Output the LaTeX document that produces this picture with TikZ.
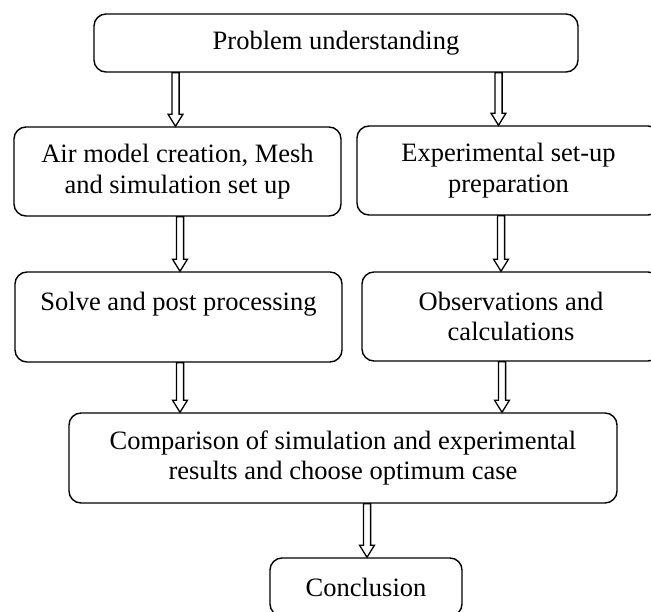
\documentclass[tikz,border=0pt]{standalone}
\usepackage{fontspec}
\setmainfont{Liberation Serif}
\usetikzlibrary{calc}
\tikzset{
  box/.style={draw, line width=1.4pt, rounded corners=12pt, align=center, inner sep=0pt,
    font=\fontsize{26.5}{30.5}\selectfont},
  blockarrow/.style={draw, fill=white, line width=1.3pt, line join=miter}
}
\newcommand\hollowarrow[2]{%
  \path[blockarrow] let \p1=(#1), \p2=(#2) in
    (\x1-3.6pt,\y1) -- (\x1-3.6pt,\y2+12pt) -- (\x1-7.4pt,\y2+12pt) -- (\x1,\y2)
    -- (\x1+7.4pt,\y2+12pt) -- (\x1+3.6pt,\y2+12pt) -- (\x1+3.6pt,\y1) -- cycle;}
\begin{document}
\begin{tikzpicture}[x=1pt,y=-1pt]
\useasboundingbox (0,0) rectangle (651,612);
\node[box, minimum width=484pt, minimum height=58pt] (b1) at (336,43) {Problem understanding};
\node[box, minimum width=327pt, minimum height=89pt] (b2) at (177.5,171.5) {Air model creation, Mesh\\and simulation set up};
\node[box, minimum width=303pt, minimum height=89pt] (b3) at (508.5,170.5) {Experimental set-up\\preparation};
\node[box, minimum width=327pt, minimum height=90pt] (b4) at (178.5,317) {Solve and post processing\\\mbox{}};
\node[box, minimum width=298pt, minimum height=89pt] (b5) at (511,316.5) {Observations and\\calculations};
\node[box, minimum width=548pt, minimum height=90pt] (b6) at (343,458) {Comparison of simulation and experimental\\results and choose optimum case};
\node[box, minimum width=192pt, minimum height=58pt] (b7) at (366,587) {Conclusion};
\coordinate (xa) at (175.5,0);
\coordinate (xb) at (498.5,0);
\coordinate (xc) at (180,0);
\coordinate (xd) at (501,0);
\coordinate (xe) at (502,0);
\coordinate (xf) at (367,0);
\hollowarrow{b1.south -| xa}{b2.north -| xa}
\hollowarrow{b1.south -| xb}{b3.north -| xb}
\hollowarrow{b2.south -| xc}{b4.north -| xc}
\hollowarrow{b3.south -| xd}{b5.north -| xd}
\hollowarrow{b4.south -| xc}{b6.north -| xc}
\hollowarrow{b5.south -| xe}{b6.north -| xe}
\hollowarrow{b6.south -| xf}{b7.north -| xf}
\end{tikzpicture}
\end{document}
